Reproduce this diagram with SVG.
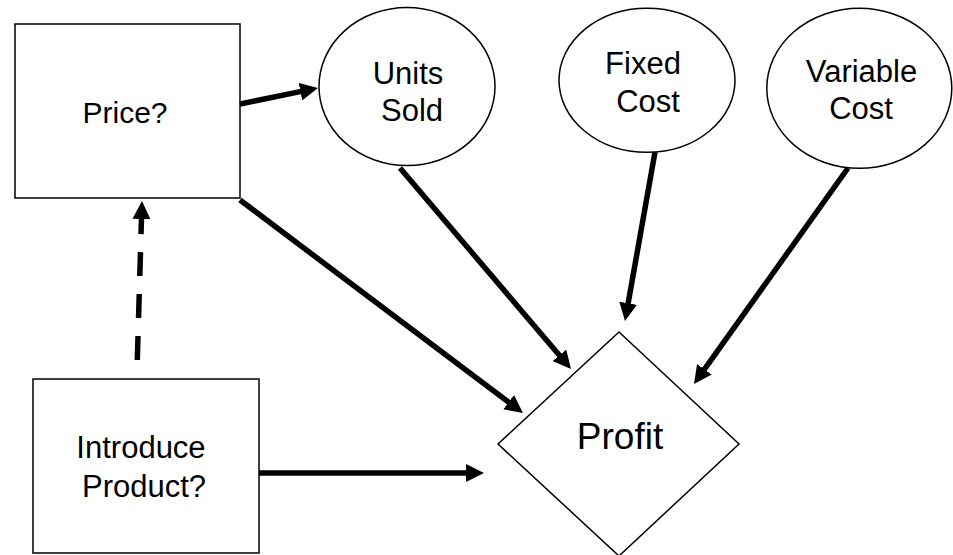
<svg xmlns="http://www.w3.org/2000/svg" width="953" height="555" viewBox="0 0 953 555">
<style>
.shape{fill:#fff;stroke:#000;stroke-width:1.5}
.lbl{font-family:"Liberation Sans",Arial,sans-serif;font-size:31px;fill:#000;text-anchor:middle}
.big{font-size:37px}
.conn{fill:none;stroke:#000;stroke-width:5.5}
.dash{stroke-dasharray:24 18}
</style>
<defs>
<marker id="ah" markerUnits="userSpaceOnUse" markerWidth="18" markerHeight="18" refX="1" refY="9" orient="auto">
<path d="M0,0 L18,9 L0,18 z" fill="#000"/>
</marker>
</defs>
<rect width="953" height="555" fill="#fff"/>
<g id="price">
<rect class="shape" x="15" y="24" width="225" height="174"/>
<text class="lbl" x="125" y="123" style="font-size:30px">Price?</text>
</g>
<g id="units-sold">
<ellipse class="shape" cx="407" cy="86.5" rx="88" ry="79"/>
<text class="lbl" x="408" y="84">Units</text>
<text class="lbl" x="412" y="121">Sold</text>
</g>
<g id="fixed-cost">
<ellipse class="shape" cx="647" cy="80.3" rx="88" ry="72"/>
<text class="lbl" x="643" y="74">Fixed</text>
<text class="lbl" x="648" y="111.5">Cost</text>
</g>
<g id="variable-cost">
<ellipse class="shape" cx="859.3" cy="88.3" rx="92.5" ry="80"/>
<text class="lbl" x="861.5" y="81.5">Variable</text>
<text class="lbl" x="861" y="118.5">Cost</text>
</g>
<g id="introduce-product">
<rect class="shape" x="33" y="379" width="226" height="174"/>
<text class="lbl" x="141" y="458">Introduce</text>
<text class="lbl" x="144" y="497">Product?</text>
</g>
<g id="profit">
<polygon class="shape" points="498,444 619,332 739,444 619,556"/>
<text class="lbl big" x="620" y="449">Profit</text>
</g>
<g id="connectors">
<path class="conn" d="M240,104 L301.35,91.42" marker-end="url(#ah)"/>
<path class="conn dash" d="M137.3,360 L141.5,218" marker-end="url(#ah)"/>
<path class="conn" d="M240,200 L509.42,402.78" marker-end="url(#ah)"/>
<path class="conn" d="M400,168 L559.98,356.05" marker-end="url(#ah)"/>
<path class="conn" d="M655,152 L627.97,304.26" marker-end="url(#ah)"/>
<path class="conn" d="M848,168 L703.87,370.16" marker-end="url(#ah)"/>
<path class="conn" d="M259,473 L467,473" marker-end="url(#ah)"/>
</g>
</svg>
